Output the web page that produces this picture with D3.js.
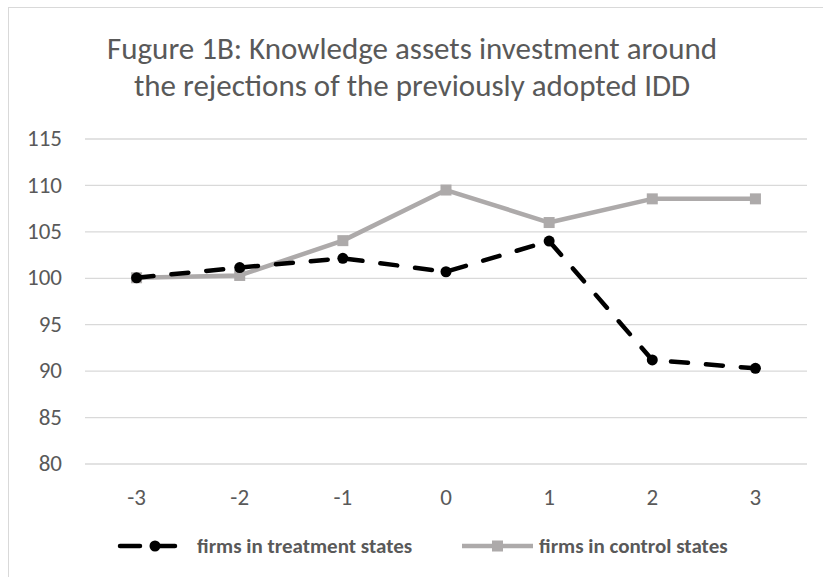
<!DOCTYPE html>
<html>
<head>
<meta charset="utf-8">
<script src="https://cdn.jsdelivr.net/npm/d3@7"></script>
<style>
  body { margin: 0; background: #fff; }
  svg { display: block; font-family: Carlito, Lato, "Liberation Sans", sans-serif; }
</style>
</head>
<body>
<div class="chart"></div>
<script>
var years = ["-3", "-2", "-1", "0", "1", "2", "3"];
var treatment = [100, 101.1, 102.1, 100.65, 103.95, 91.15, 90.25];
var control = [100, 100.25, 104, 109.45, 105.95, 108.5, 108.5];
var yTicks = [80, 85, 90, 95, 100, 105, 110, 115];
var titleLines = ["Fugure 1B: Knowledge assets investment around", "the rejections of the previously adopted IDD"];
var seriesNames = ["firms in treatment states", "firms in control states"];

var W = 823, H = 577;
var textColor = "#595959";
var grayColor = "#adaaaa";

var svg = d3.select(".chart").append("svg")
  .attr("width", W)
  .attr("height", H);

// chart border (right/bottom edges fall outside the picture)
svg.append("rect")
  .attr("x", 8.5).attr("y", 7.5)
  .attr("width", W).attr("height", H)
  .attr("fill", "#fff")
  .attr("stroke", "#d9d9d9");

// title
svg.append("g").selectAll("text")
  .data(titleLines)
  .enter().append("text")
  .attr("x", 412)
  .attr("y", (d, i) => 59 + i * 37)
  .attr("text-anchor", "middle")
  .attr("fill", textColor)
  .style("font-size", "31px")
  .text(d => d);

var x = d3.scalePoint().domain(years).range([85, 807]).padding(0.5);
var y = d3.scaleLinear().domain([80, 115]).range([463.5, 138.5]);

// gridlines
svg.append("g")
  .attr("transform", "translate(85,0)")
  .call(d3.axisLeft(y).tickValues(yTicks).tickSize(-722).tickFormat(""))
  .call(g => g.select(".domain").remove())
  .selectAll("line")
  .attr("stroke", "#d9d9d9")
  .attr("stroke-width", 1.3);

// y labels
svg.append("g").selectAll("text")
  .data(yTicks)
  .enter().append("text")
  .attr("x", 62)
  .attr("y", d => y(d))
  .attr("dy", "0.33em")
  .attr("text-anchor", "end")
  .attr("fill", textColor)
  .style("font-size", "23px")
  .text(d => d);

// x labels
svg.append("g").selectAll("text")
  .data(years)
  .enter().append("text")
  .attr("x", d => x(d))
  .attr("y", 497)
  .attr("dy", "0.33em")
  .attr("text-anchor", "middle")
  .attr("fill", textColor)
  .style("font-size", "23px")
  .text(d => d);

var line = d3.line()
  .x((d, i) => x(years[i]))
  .y(d => y(d));

// control series
svg.append("path")
  .datum(control)
  .attr("d", line)
  .attr("fill", "none")
  .attr("stroke", grayColor)
  .attr("stroke-width", 4.5)
  .attr("stroke-linejoin", "round");

svg.append("g").selectAll("rect")
  .data(control)
  .enter().append("rect")
  .attr("x", (d, i) => x(years[i]) - 5.5)
  .attr("y", d => y(d) - 5.5)
  .attr("width", 11).attr("height", 11)
  .attr("fill", grayColor);

// treatment series
svg.append("path")
  .datum(treatment)
  .attr("d", line)
  .attr("fill", "none")
  .attr("stroke", "#000")
  .attr("stroke-width", 4.5)
  .attr("stroke-linecap", "round")
  .attr("stroke-dasharray", "17,18");

svg.append("g").selectAll("circle")
  .data(treatment)
  .enter().append("circle")
  .attr("cx", (d, i) => x(years[i]))
  .attr("cy", d => y(d))
  .attr("r", 5.5)
  .attr("fill", "#000");

// legend
var ly = 546;
var leg = svg.append("g");
leg.append("line")
  .attr("x1", 120).attr("x2", 181).attr("y1", ly).attr("y2", ly)
  .attr("stroke", "#000").attr("stroke-width", 4.5)
  .attr("stroke-linecap", "round")
  .attr("stroke-dasharray", "20,15");
leg.append("circle").attr("cx", 155).attr("cy", ly).attr("r", 5.5).attr("fill", "#000");
leg.append("text")
  .attr("x", 197).attr("y", ly).attr("dy", "0.33em")
  .attr("fill", textColor)
  .style("font-size", "21px").style("font-weight", "bold")
  .text(seriesNames[0]);

leg.append("line")
  .attr("x1", 462).attr("x2", 533).attr("y1", ly).attr("y2", ly)
  .attr("stroke", grayColor).attr("stroke-width", 4.5);
leg.append("rect").attr("x", 492).attr("y", ly - 5.5).attr("width", 11).attr("height", 11).attr("fill", grayColor);
leg.append("text")
  .attr("x", 539).attr("y", ly).attr("dy", "0.33em")
  .attr("fill", textColor)
  .style("font-size", "21px").style("font-weight", "bold")
  .text(seriesNames[1]);
</script>
</body>
</html>
